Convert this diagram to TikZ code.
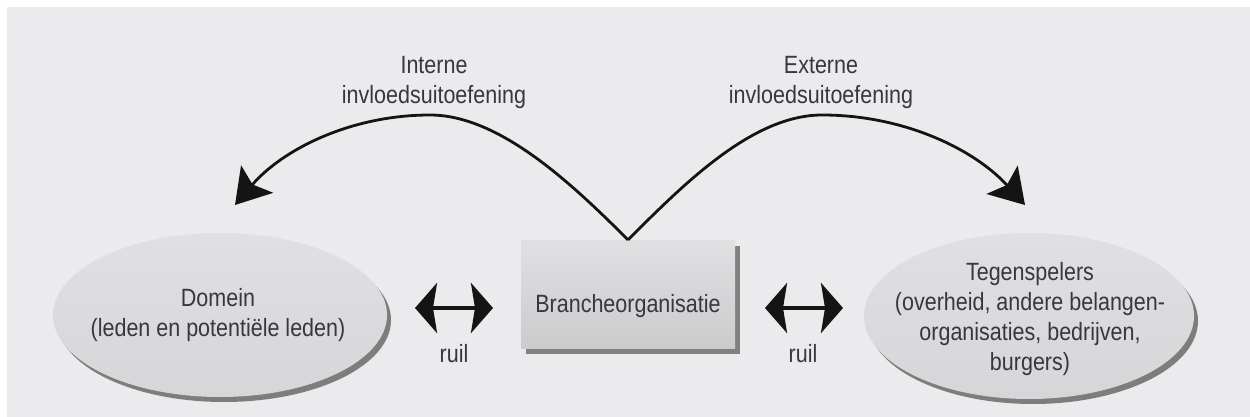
\documentclass[tikz,border=0pt]{standalone}
\usepackage{fontspec}
\setmainfont{Liberation Sans}[FakeStretch=0.86]
\usetikzlibrary{arrows.meta,shapes.geometric,shadows}
\definecolor{panel}{HTML}{EBEBED}
\definecolor{ink}{HTML}{38383A}
\definecolor{shapefill}{HTML}{D6D6D8}
\definecolor{shapetop}{HTML}{E0E0E2}
\begin{document}
\begin{tikzpicture}[x=1pt,y=-1pt,
  txt/.style={font=\fontsize{25}{30}\selectfont, text=ink, align=center, inner sep=0pt},
  oval/.style={ellipse, inner sep=0pt, top color=shapetop, bottom color=shapefill,
    drop shadow={shadow xshift=4pt, shadow yshift=-5pt, fill=black!65, opacity=.75}},
  boxshape/.style={rectangle, inner sep=0pt, top color=shapetop, bottom color=shapefill!95!black,
    drop shadow={shadow xshift=5pt, shadow yshift=-6pt, fill=black!60, opacity=.8}},
  curve/.style={line width=2.8pt, draw=black!92, -{Stealth[length=34pt, width=42pt, inset=7pt]}},
  dbl/.style={line width=4pt, draw=black!92, {Stealth[length=22pt, width=50pt, inset=4pt]}-{Stealth[length=22pt, width=50pt, inset=4pt]}}
]
\useasboundingbox (0,0) rectangle (1250,417);
\fill[panel] (7,7) rectangle (1250,417);

% shapes
\node[oval, minimum width=334pt, minimum height=164pt] (dom) at (220,315) {};
\node[oval, minimum width=330pt, minimum height=166pt] (teg) at (1029,316) {};
\node[boxshape, minimum width=214pt, minimum height=108pt] (bo) at (628,294) {};

% texts
\node[txt] (domtxt) at (218,315) {Domein\\(leden en potentiële leden)};
\node[txt] (tegtxt) at (1030,319) {Tegenspelers\\(overheid, andere belangen-\\organisaties, bedrijven,\\burgers)};
\node[txt, anchor=base] (botxt) at (628,312) {Brancheorganisatie};
\node[txt] (intern) at (434,82) {Interne\\invloedsuitoefening};
\node[txt] (extern) at (821,82) {Externe\\invloedsuitoefening};

% curved arrows
\coordinate (inEnd) at (235,205);
\coordinate (exEnd) at (1025,205);
\draw[curve] (bo.north) .. controls (573,185) and (500,115) .. (430,115)
  .. controls (350,115) and (282,150) .. (inEnd);
\draw[curve] (bo.north) .. controls (683,185) and (752,115) .. (822,115)
  .. controls (905,115) and (975,150) .. (exEnd);

% exchange arrows
\coordinate (r1a) at (415,308);
\coordinate (r1b) at (493,308);
\coordinate (r2a) at (765,308);
\coordinate (r2b) at (843,308);
\draw[dbl] (r1a) -- (r1b);
\draw[dbl] (r2a) -- (r2b);
\node[txt, anchor=base] (ruil1) at (454,362) {ruil};
\node[txt, anchor=base] (ruil2) at (803,362) {ruil};
\end{tikzpicture}
\end{document}
